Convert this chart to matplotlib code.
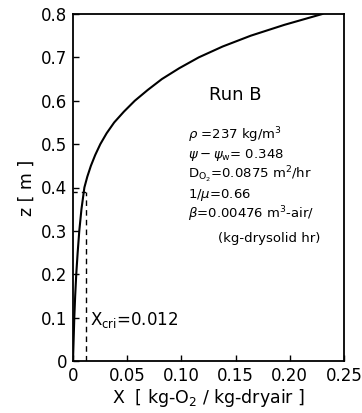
import matplotlib
matplotlib.use("Agg")
import matplotlib.pyplot as plt

# data
z_vals = [0.0, 0.05, 0.1, 0.15, 0.2, 0.25, 0.3, 0.35, 0.4, 0.425, 0.45, 0.475, 0.5, 0.525,
          0.55, 0.575, 0.6, 0.625, 0.65, 0.675, 0.7, 0.725, 0.75, 0.775, 0.8]
x_vals = [0.0, 0.0006, 0.0012, 0.002, 0.003, 0.0043, 0.0058, 0.0078, 0.0105, 0.0132, 0.0165,
          0.0205, 0.0252, 0.031, 0.038, 0.047, 0.057, 0.069, 0.082, 0.098, 0.116, 0.138,
          0.164, 0.195, 0.23]
x_cri = 0.012
z_cri = 0.39
x_ticks = [0, 0.05, 0.10, 0.15, 0.20, 0.25]
x_ticklabels = ["0", "0.05", "0.10", "0.15", "0.20", "0.25"]
y_ticks = [0, 0.1, 0.2, 0.3, 0.4, 0.5, 0.6, 0.7, 0.8]
y_ticklabels = ["0", "0.1", "0.2", "0.3", "0.4", "0.5", "0.6", "0.7", "0.8"]

fig = plt.figure(figsize=(3.62, 4.13), dpi=100)
ax = fig.add_axes([73/362, 1-361/413, (344-73)/362, (361-14)/413])

ax.plot(x_vals, z_vals, color="black", lw=1.5)
ax.plot([x_cri, x_cri], [0, z_cri], color="black", lw=1.0, ls=(0, (4, 3)))
ax.plot([0, x_cri], [z_cri, z_cri], color="black", lw=1.0, ls=(0, (3, 3)))

ax.set_xlim(0, 0.25)
ax.set_ylim(0, 0.8)
ax.set_xticks(x_ticks)
ax.set_xticklabels(x_ticklabels)
ax.set_yticks(y_ticks)
ax.set_yticklabels(y_ticklabels)
ax.tick_params(direction="in", length=4, width=1, labelsize=12, pad=4)
for s in ax.spines.values():
    s.set_linewidth(1.3)

ax.set_xlabel(r"X  [ kg-O$_2$ / kg-dryair ]", fontsize=12.5, labelpad=2)
ax.set_ylabel(r"z [ m ]", fontsize=12.5, labelpad=4)

ax.text(0.150, 0.613, "Run B", fontsize=13, ha="center", va="center")
lines = [
    (r"$\rho$ =237 kg/m$^3$", 0.106, 0.521),
    (r"$\psi - \psi_\mathrm{w}$= 0.348", 0.106, 0.475),
    (r"D$_{\mathrm{O}_2}$=0.0875 m$^2$/hr", 0.106, 0.429),
    (r"1/$\mu$=0.66", 0.106, 0.383),
    (r"$\beta$=0.00476 m$^3$-air/", 0.106, 0.339),
    (r"(kg-drysolid hr)", 0.134, 0.283),
]
for t, x, y in lines:
    ax.text(x, y, t, fontsize=9.5, ha="left", va="center")

ax.text(0.016, 0.094, r"X$_\mathrm{cri}$=0.012", fontsize=12, ha="left", va="center")

fig.savefig("out.png", dpi=100)
